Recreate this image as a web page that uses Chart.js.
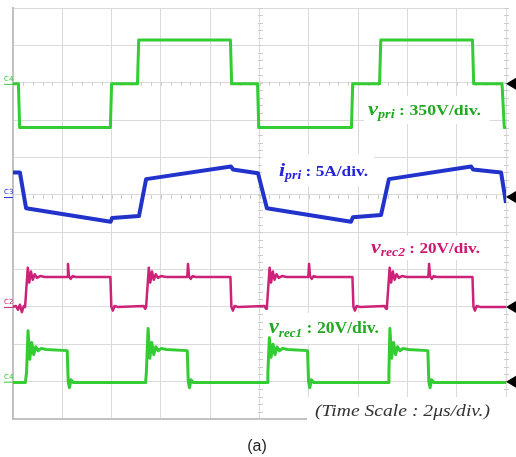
<!DOCTYPE html>
<html><head><meta charset="utf-8">
<script src="https://cdn.jsdelivr.net/npm/chart.js@4"></script>
<style>html,body{margin:0;padding:0;background:#fff;}canvas{display:block}</style>
</head><body>
<canvas id="c" width="516" height="457"></canvas>
<script>
// ---------- DATA ----------
// Time axis: 2 us/div, 10 divisions
const timeTicksUs = [0, 2, 4, 6, 8, 10, 12, 14, 16, 18, 20];

// v_pri  (V)  350 V/div
const vPriTime = [0, 0.22, 0.27, 3.95, 4.00, 5.05, 5.10, 8.82, 8.87, 9.92, 9.97, 13.73, 13.78, 14.87, 14.92, 18.64, 18.69, 19.84, 19.93, 20];
const vPriVolt = [0, 0, -410, -410, 0, 0, 410, 410, 0, 0, -410, -410, 0, 0, 410, 410, 0, 0, -410, -410];

// i_pri  (A)  5 A/div
const iPriTime = [0, 0.28, 0.53, 3.96, 4.02, 5.11, 5.40, 8.84, 8.92, 9.94, 10.30, 13.71, 13.79, 14.93, 15.25, 18.58, 18.66, 19.80, 20];
const iPriAmp  = [3.3, 3.3, -1.5, -3.3, -2.8, -2.55, 2.4, 4.1, 3.7, 3.2, -1.5, -3.3, -2.7, -2.4, 2.4, 4.1, 3.7, 3.3, -0.8];

// v_rec2 (V)  20 V/div
const vRec2Time = [0, 0.12, 0.20, 0.28, 0.36, 0.44, 0.49, 0.60, 0.66, 0.73, 0.80, 0.88, 0.97, 1.10, 1.30, 2.20, 2.23, 2.27, 2.34, 2.42, 2.55, 3.95, 3.99, 4.05, 4.12, 4.25,
  5.30, 5.37, 5.40, 5.51, 5.57, 5.64, 5.71, 5.79, 5.88, 6.01, 6.20, 7.07, 7.10, 7.14, 7.21, 7.29, 7.42, 8.82, 8.86, 8.92, 8.99, 9.12,
  10.20, 10.27, 10.30, 10.41, 10.47, 10.54, 10.61, 10.69, 10.78, 10.91, 11.10, 11.98, 12.01, 12.05, 12.12, 12.20, 12.33, 13.77, 13.81, 13.87, 13.94, 14.07,
  15.07, 15.14, 15.17, 15.28, 15.34, 15.41, 15.48, 15.56, 15.65, 15.78, 15.97, 16.85, 16.88, 16.92, 16.99, 17.07, 17.20, 18.64, 18.68, 18.74, 18.81, 18.94, 20];
const vRec2Volt = [0, 0.5, -1.5, 1.2, -2.8, 0.5, 0, 21, 13, 19, 14.5, 17.5, 15.5, 16.5, 16, 16, 23, 16.5, 15, 16.5, 16, 16, 0, -2, 0.5, 0,
  0.5, -1, 0, 21, 13, 19, 14.5, 17.5, 15.5, 16.5, 16, 16, 23, 16.5, 15, 16.5, 16, 16, 0, -2, 0.5, 0,
  0.5, -1, 0, 21, 13, 19, 14.5, 17.5, 15.5, 16.5, 16, 16, 23, 16.5, 15, 16.5, 16, 16, 0, -2, 0.5, 0,
  0.5, -1, 0, 21, 13, 19, 14.5, 17.5, 15.5, 16.5, 16, 16, 23, 16.5, 15, 16.5, 16, 16, 0, -2, 0.5, 0, 0];

// v_rec1 (V)  20 V/div
const vRec1Time = [0, 0.50, 0.55, 0.61, 0.68, 0.76, 0.84, 0.92, 1.02, 1.15, 1.35, 2.20, 2.24, 2.29, 2.35, 2.45,
  5.38, 5.41, 5.48, 5.55, 5.63, 5.71, 5.79, 5.89, 6.02, 6.22, 7.07, 7.11, 7.16, 7.22, 7.32,
  10.31, 10.34, 10.40, 10.47, 10.55, 10.63, 10.71, 10.81, 10.94, 11.14, 11.95, 11.99, 12.04, 12.10, 12.20,
  15.22, 15.25, 15.29, 15.36, 15.44, 15.52, 15.60, 15.70, 15.83, 16.03, 16.83, 16.87, 16.92, 16.98, 17.08, 20];
const vRec1Volt = [-0.5, -0.5, 5, 27.3, 12, 21, 14.5, 18.7, 16.5, 17.8, 17.2, 16.6, 0, -3.2, 1, -0.5,
  -0.5, 5, 28.4, 12.5, 21, 14.5, 18.7, 16.5, 17.8, 17.2, 16.6, 0, -3.2, 1, -0.5,
  -0.5, 5, 23.5, 13, 20, 14.5, 18.5, 16.5, 17.8, 17.2, 16.6, 0, -3.2, 1, -0.5,
  -0.5, 5, 28.4, 12.5, 21, 14.5, 18.7, 16.5, 17.8, 17.2, 16.6, 0, -3.2, 1, -0.5, -0.5];

// ---------- channel placement on the 11-division screen ----------
const CH = {
  vpri:  { offset: 8.97, perDiv: 350 },
  ipri:  { offset: 5.94, perDiv: 5 },
  vrec2: { offset: 3.00, perDiv: 20 },
  vrec1: { offset: 1.00, perDiv: 20 }
};
const toPts = (ts, vs, ch) => ts.map((t, i) => ({ x: t, y: ch.offset + vs[i] / ch.perDiv }));

const GREEN = '#33cc33', BLUE = '#2233cc', MAG = '#cc2277';
const GRID = '#dadada', BORDER = '#c2c2c2';

function drawRich(ctx, x, base, parts, targetW) {
  let w = 0;
  parts.forEach(p => { ctx.font = p.font; w += ctx.measureText(p.t).width; });
  const s = targetW / w;
  ctx.save();
  ctx.translate(x, base);
  ctx.scale(s, 1);
  let cx = 0;
  parts.forEach(p => { ctx.font = p.font; ctx.fillText(p.t, cx, p.dy || 0); cx += ctx.measureText(p.t).width; });
  ctx.restore();
}

const scopeDecor = {
  id: 'scopeDecor',
  beforeDatasetsDraw(chart) {
    const ctx = chart.ctx, xs = chart.scales.x, ys = chart.scales.y, a = chart.chartArea;
    const divX = xs.getPixelForValue(2) - xs.getPixelForValue(0);
    const divY = ys.getPixelForValue(0) - ys.getPixelForValue(1);
    ctx.save();
    ctx.strokeStyle = '#cccccc';
    ctx.lineWidth = 1;
    [10, 20].forEach(tv => {
      const px = Math.round(xs.getPixelForValue(tv)) + 0.5;
      for (let k = 0; k <= 55; k++) {
        const py = Math.round(a.bottom - k * divY / 5) + 0.5;
        ctx.beginPath(); ctx.moveTo(px - 2.5, py); ctx.lineTo(px + 2.5, py); ctx.stroke();
      }
    });
    [CH.vpri.offset, CH.ipri.offset].forEach(ov => {
      const py = ys.getPixelForValue(ov);
      for (let k = 0; k <= 50; k++) {
        const px = Math.round(a.left + k * divX / 5) + 0.5;
        ctx.beginPath(); ctx.moveTo(px, py - 2); ctx.lineTo(px, py + 2); ctx.stroke();
      }
    });
    ctx.fillStyle = '#fff';
    ctx.fillRect(364, 96, 126, 28);
    ctx.fillRect(262, 154, 112, 32);
    ctx.fillRect(366, 236, 120, 24);
    ctx.fillRect(265, 313, 119, 31);
    ctx.fillRect(307, 397, 209, 60);
    const marks = [[CH.vpri.offset, 'C4', GREEN], [CH.ipri.offset, 'C3', BLUE], [CH.vrec2.offset, 'C2', MAG], [CH.vrec1.offset, 'C4', GREEN]];
    ctx.font = '7px "DejaVu Sans"';
    marks.forEach(([ov, t, c]) => {
      const py = ys.getPixelForValue(ov);
      ctx.fillStyle = c; ctx.strokeStyle = c;
      ctx.fillText(t, 4, py - 3);
      ctx.beginPath(); ctx.moveTo(4, py + 0.5); ctx.lineTo(13, py + 0.5); ctx.stroke();
    });
    ctx.fillStyle = '#000';
    marks.forEach(([ov]) => {
      const py = ys.getPixelForValue(ov);
      ctx.beginPath(); ctx.moveTo(506, py); ctx.lineTo(516, py - 6); ctx.lineTo(516, py + 6); ctx.closePath(); ctx.fill();
    });
    ctx.restore();
  },
  afterDatasetsDraw(chart) {
    const ctx = chart.ctx;
    ctx.save();
    ctx.textBaseline = 'alphabetic';
    const F = '"Liberation Serif", "Times New Roman", serif';
    ctx.fillStyle = '#22a822';
    drawRich(ctx, 368, 115, [
      { t: 'v', font: `italic bold 19px ${F}` },
      { t: 'pri', font: `italic bold 12px ${F}`, dy: 3 },
      { t: ' : 350V/div.', font: `bold 15px ${F}` }], 113);
    ctx.fillStyle = '#2424dc';
    drawRich(ctx, 279, 176, [
      { t: 'i', font: `italic bold 19px ${F}` },
      { t: 'pri', font: `italic bold 12px ${F}`, dy: 3 },
      { t: ' : 5A/div.', font: `bold 15px ${F}` }], 89);
    ctx.fillStyle = '#cc1a70';
    drawRich(ctx, 371, 253, [
      { t: 'v', font: `italic bold 19px ${F}` },
      { t: 'rec2', font: `italic bold 12px ${F}`, dy: 3 },
      { t: ' : 20V/div.', font: `bold 15px ${F}` }], 109);
    ctx.fillStyle = '#22a822';
    drawRich(ctx, 269, 333, [
      { t: 'v', font: `italic bold 20px ${F}` },
      { t: 'rec1', font: `italic bold 12px ${F}`, dy: 4 },
      { t: ' : 20V/div.', font: `bold 16px ${F}` }], 110);
    ctx.fillStyle = '#333';
    drawRich(ctx, 315, 416, [{ t: '(Time Scale : 2\u03BCs/div.)', font: `italic 17px ${F}` }], 175);
    ctx.fillStyle = '#222';
    ctx.font = '16px "Liberation Sans", Arial, sans-serif';
    ctx.textAlign = 'center';
    ctx.fillText('(a)', 257, 451);
    ctx.restore();
  }
};

const ds = (pts, color, w) => ({ data: pts, borderColor: color, borderWidth: w, pointRadius: 0, tension: 0, fill: false, borderJoinStyle: 'round' });

new Chart(document.getElementById('c'), {
  type: 'line',
  data: {
    datasets: [
      ds(toPts(vPriTime, vPriVolt, CH.vpri), GREEN, 3),
      ds(toPts(iPriTime, iPriAmp, CH.ipri), BLUE, 4),
      ds(toPts(vRec2Time, vRec2Volt, CH.vrec2), MAG, 2.5),
      ds(toPts(vRec1Time, vRec1Volt, CH.vrec1), GREEN, 3)
    ]
  },
  options: {
    responsive: false,
    animation: false,
    events: [],
    layout: { padding: { left: 13, top: 8, right: 10, bottom: 38 } },
    plugins: { legend: { display: false }, tooltip: { enabled: false } },
    scales: {
      x: {
        type: 'linear', min: timeTicksUs[0], max: timeTicksUs[timeTicksUs.length - 1],
        afterBuildTicks: s => { s.ticks = timeTicksUs.map(v => ({ value: v })); },
        ticks: { display: false },
        grid: { color: GRID, drawTicks: false, lineWidth: 1 },
        border: { color: BORDER, width: 2 }
      },
      y: {
        type: 'linear', min: 0, max: 11,
        ticks: { display: false, stepSize: 1 },
        grid: { color: GRID, drawTicks: false, lineWidth: 1 },
        border: { color: BORDER, width: 2 }
      }
    }
  },
  plugins: [scopeDecor]
});
</script>
</body></html>
